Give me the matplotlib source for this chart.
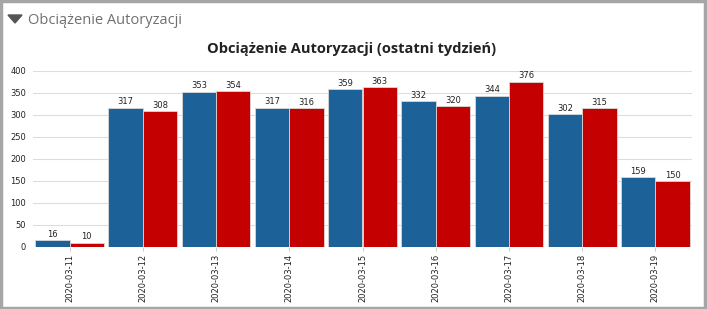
import matplotlib
matplotlib.use("Agg")
import matplotlib.pyplot as plt
from matplotlib.patches import Rectangle, Polygon
import numpy as np

categories = ["2020-03-11", "2020-03-12", "2020-03-13", "2020-03-14", "2020-03-15",
              "2020-03-16", "2020-03-17", "2020-03-18", "2020-03-19"]
series_blue = [16, 317, 353, 317, 359, 332, 344, 302, 159]
series_red = [10, 308, 354, 316, 363, 320, 376, 315, 150]
yticks = [0, 50, 100, 150, 200, 250, 300, 350, 400]

fig = plt.figure(figsize=(7.07, 3.09), dpi=100)
fig.patch.set_facecolor("white")

# outer frame
fig.add_artist(Rectangle((0.002, 0.004), 0.995, 0.992, transform=fig.transFigure,
                         fill=False, edgecolor="#a6a6a6", linewidth=2.5))
# header triangle + text
fig.add_artist(Polygon([[8/707, 1-15/309], [22/707, 1-15/309], [15/707, 1-23/309]],
                       closed=True, transform=fig.transFigure, color="#555555"))
fig.text(28/707, 1-20/309, "Obciążenie Autoryzacji", fontsize=10.5, color="#707070",
         family="Open Sans", va="center", ha="left")

ax = fig.add_axes([33/707, 1-247/309, (692-33)/707, (247-71)/309])
x = np.arange(len(categories))
w = 0.47
b1 = ax.bar(x - w/2, series_blue, w, color="#1c6198", edgecolor="#d8d8d8", linewidth=0.6, zorder=3)
b2 = ax.bar(x + w/2, series_red, w, color="#c40000", edgecolor="#d8d8d8", linewidth=0.6, zorder=3)
for bars, vals in ((b1, series_blue), (b2, series_red)):
    for r, v in zip(bars, vals):
        ax.text(r.get_x() + r.get_width()/2, v + 3, str(v), ha="center", va="bottom",
                fontsize=6, color="#222222")

ax.set_xlim(-0.5, len(categories) - 0.5)
ax.set_ylim(0, 400)
ax.set_yticks(yticks)
ax.set_yticklabels([str(t) for t in yticks], fontsize=6, color="#222222")
ax.set_xticks(x)
ax.set_xticklabels(categories, rotation=90, fontsize=6, color="#222222")
ax.tick_params(axis="y", length=0, pad=5)
ax.tick_params(axis="x", length=3, color="#cccccc", pad=2)
ax.grid(axis="y", color="#dddddd", linewidth=0.8, zorder=0)
for s in ax.spines.values():
    s.set_visible(False)

fig.text(352/707, 1-49/309, "Obciążenie Autoryzacji (ostatni tydzień)", fontsize=10.5,
         fontweight="bold", family="Open Sans", color="#222222", ha="center", va="center")

fig.savefig("out.png", dpi=100)
